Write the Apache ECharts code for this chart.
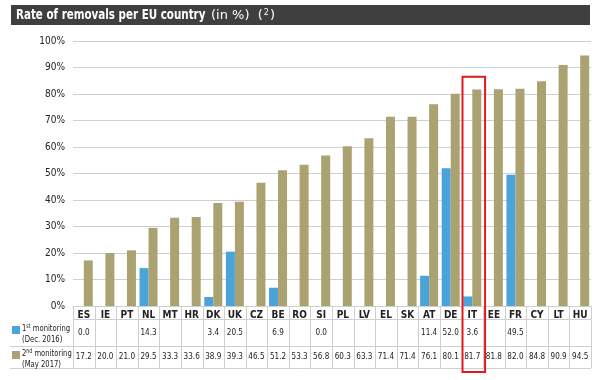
<!DOCTYPE html>
<html><head><meta charset="utf-8">
<script src="https://cdn.jsdelivr.net/npm/echarts@6/dist/echarts.min.js"></script>
<style>html,body{margin:0;padding:0;background:#fff}#c{width:600px;height:380px}</style>
</head><body><div id="c"></div>
<script>
const countries = ['ES','IE','PT','NL','MT','HR','DK','UK','CZ','BE','RO','SI','PL','LV','EL','SK','AT','DE','IT','EE','FR','CY','LT','HU'];
const firstMonitoring = [0.0,null,null,14.3,null,null,3.4,20.5,null,6.9,null,0.0,null,null,null,null,11.4,52.0,3.6,null,49.5,null,null,null];
const secondMonitoring = [17.2,20.0,21.0,29.5,33.3,33.6,38.9,39.3,46.5,51.2,53.3,56.8,60.3,63.3,71.4,71.4,76.1,80.1,81.7,81.8,82.0,84.8,90.9,94.5];
const highlighted = 'IT';
const highlightTop = 86.5;

const FONT = '"DejaVu Sans Condensed","DejaVu Sans",sans-serif';
const BLUE = '#4ba3dc', OLIVE = '#aaa271', GRID = '#cfcfcf', TXT = '#222';
const chart = echarts.init(document.getElementById('c'));
const G = {left: 73, right: 9, top: 41, bottom: 74};
chart.setOption({
  animation: false,
  textStyle: {fontFamily: FONT},
  grid: G,
  xAxis: {
    type: 'category', data: countries,
    axisTick: {show: false},
    axisLine: {lineStyle: {color: GRID}},
    axisLabel: {margin: 4, fontSize: 10, fontWeight: 'bold', color: TXT, fontFamily: FONT, interval: 0}
  },
  yAxis: {
    type: 'value', min: 0, max: 100, interval: 10,
    axisLabel: {formatter: '{value}%', fontSize: 10, color: TXT, margin: 8, fontFamily: FONT},
    splitLine: {lineStyle: {color: GRID}}
  },
  series: [
    {type: 'bar', data: firstMonitoring, barWidth: 9, barGap: '0%', itemStyle: {color: BLUE}},
    {type: 'bar', data: secondMonitoring, barWidth: 9, itemStyle: {color: OLIVE}}
  ]
});

function build() {
  const W = 600, H = 380;
  const x0 = G.left, x1 = W - G.right;
  const bw = (x1 - x0) / countries.length;
  const yTop = H - G.bottom;
  const yHead = yTop + 13, yR1 = yTop + 40, yR2 = yTop + 62;
  const gfx = [];
  gfx.push({type: 'rect', shape: {x: 11, y: 5, width: 579, height: 20}, style: {fill: '#3f3f3f'}, z: -1});
  gfx.push({type: 'text', x: 16, y: 15.5, scaleX: 0.82, style: {
    text: 'Rate of removals per EU country', verticalAlign: 'middle',
    fontFamily: FONT, fontSize: 14, fontWeight: 'bold', fill: '#fff'
  }});
  gfx.push({type: 'text', x: 211, y: 15.5, style: {
    text: '{n|(in %)  (}{s|2}{n|)}', verticalAlign: 'middle',
    rich: {
      n: {fontFamily: '"DejaVu Sans",sans-serif', fontSize: 13, fill: '#fff'},
      s: {fontFamily: '"DejaVu Sans",sans-serif', fontSize: 8, fill: '#fff', padding: [0,1,6,1]}
    }
  }});
  const line = (xa, ya, xb, yb) => gfx.push({type: 'line', shape: {x1: xa, y1: ya, x2: xb, y2: yb}, style: {stroke: GRID, lineWidth: 1}, silent: true});
  line(x0, yHead + 0.5, x1, yHead + 0.5);
  line(10, yR1 + 0.5, x1, yR1 + 0.5);
  line(10, yR2 + 0.5, x1, yR2 + 0.5);
  for (let i = 0; i <= countries.length; i++) {
    const x = Math.round(x0 + i * bw) + 0.5;
    line(x, yTop, x, yR2);
  }
  const cell = (cx, cy, v) => gfx.push({type: 'text', x: cx, y: cy, scaleX: 0.85, style: {text: v.toFixed(1), fontSize: 9.5, fill: TXT, align: 'center', verticalAlign: 'middle', fontFamily: FONT}});
  countries.forEach((c, i) => {
    const cx = chart.convertToPixel({xAxisIndex: 0}, c);
    if (firstMonitoring[i] !== null) cell(cx, (yHead + yR1) / 2, firstMonitoring[i]);
    cell(cx, (yR1 + yR2) / 2, secondMonitoring[i]);
  });
  const legRich = {a: {fontSize: 9.5, fontFamily: FONT, fill: TXT, lineHeight: 11}, s: {fontSize: 6.5, fontFamily: FONT, fill: TXT, padding: [0,0,4,0]}};
  gfx.push({type: 'rect', shape: {x: 12, y: yHead + 7, width: 8, height: 8}, style: {fill: BLUE}});
  gfx.push({type: 'text', x: 22, y: yHead + 4, scaleX: 0.8, style: {text: '{a|1}{s|st}{a| monitoring}\n{a|(Dec. 2016)}', fill: TXT, fontFamily: FONT, rich: legRich}});
  gfx.push({type: 'rect', shape: {x: 12, y: yR1 + 5, width: 8, height: 8}, style: {fill: OLIVE}});
  gfx.push({type: 'text', x: 22, y: yR1 + 2, scaleX: 0.8, style: {text: '{a|2}{s|nd}{a| monitoring}\n{a|(May 2017)}', fill: TXT, fontFamily: FONT, rich: legRich}});
  const hx = chart.convertToPixel({xAxisIndex: 0}, highlighted);
  const hy = chart.convertToPixel({yAxisIndex: 0}, highlightTop);
  gfx.push({type: 'rect', shape: {x: hx - bw / 2 + 1, y: hy, width: bw + 1, height: yR2 + 4 - hy}, style: {fill: 'none', stroke: '#e3191c', lineWidth: 2}, z: 100});
  chart.setOption({graphic: gfx});
}
build();
</script></body></html>
